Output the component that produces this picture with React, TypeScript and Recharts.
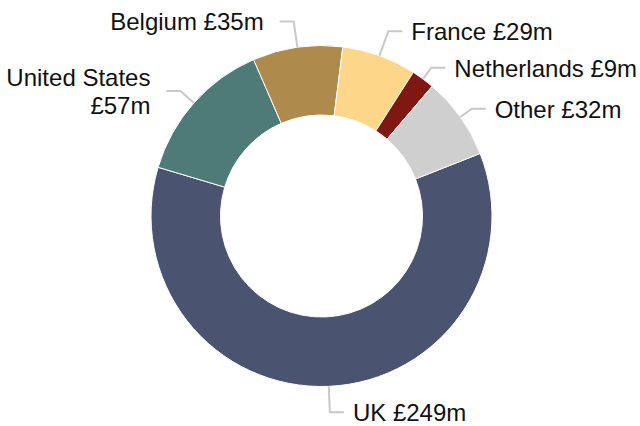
import React from "react";
import { Cell, Pie, PieChart } from "recharts";

// revenue by country, £m
const countries = ["UK", "United States", "Belgium", "France", "Netherlands", "Other"];
const values = [249, 57, 35, 29, 9, 32];
const labelLines = [
  ["UK £249m"],
  ["United States", "£57m"],
  ["Belgium £35m"],
  ["France £29m"],
  ["Netherlands £9m"],
  ["Other £32m"],
];
const colors = ["#4a5470", "#4e7a78", "#ae8b4c", "#fdd68a", "#7f1810", "#cfcfcf"];

// radial length of each leader line before it turns horizontal
const leaderLengths = [26, 18, 26, 26, 14, 14];

const data = countries.map((name, i) => ({ name, value: values[i] }));

const RAD = Math.PI / 180;
const FONT = "'Liberation Sans', Arial, Helvetica, sans-serif";

const renderLabel = (props: any) => {
  const { cx, cy, midAngle, outerRadius, index } = props;
  const cos = Math.cos(-midAngle * RAD);
  const sin = Math.sin(-midAngle * RAD);
  const x0 = cx + outerRadius * cos;
  const y0 = cy + outerRadius * sin;
  const r1 = outerRadius + leaderLengths[index];
  const x1 = cx + r1 * cos;
  const y1 = cy + r1 * sin;
  const right = cos >= 0;
  const x2 = x1 + (right ? 14 : -14);
  const tx = x2 + (right ? 9 : -16);
  const lines = labelLines[index];
  const lh = 28;
  return (
    <g>
      <polyline
        points={`${x0},${y0} ${x1},${y1} ${x2},${y1}`}
        stroke="#c8c8c8"
        strokeWidth={2}
        fill="none"
      />
      <text
        x={tx}
        y={y1}
        textAnchor={right ? "start" : "end"}
        dominantBaseline="central"
        fontFamily={FONT}
        fontSize={24}
        fill="#111"
      >
        {lines.map((l, i) => (
          <tspan key={i} x={tx} dy={i === 0 ? (-(lines.length - 1) / 2) * lh : lh}>
            {l}
          </tspan>
        ))}
      </text>
    </g>
  );
};

export default function App() {
  return (
    <div style={{ position: "absolute", left: 0, top: 0, width: 640, height: 426, background: "#fff" }}>
      <PieChart width={640} height={426} margin={{ top: 0, right: 0, bottom: 0, left: 0 }}>
        <Pie
          data={data}
          dataKey="value"
          nameKey="name"
          cx={321.5}
          cy={216}
          innerRadius={101}
          outerRadius={170.5}
          startAngle={21.5}
          endAngle={-338.5}
          stroke="#ffffff"
          strokeWidth={1}
          label={renderLabel}
          labelLine={false}
          isAnimationActive={false}
        >
          {data.map((d, i) => (
            <Cell key={d.name} fill={colors[i]} />
          ))}
        </Pie>
      </PieChart>
    </div>
  );
}
